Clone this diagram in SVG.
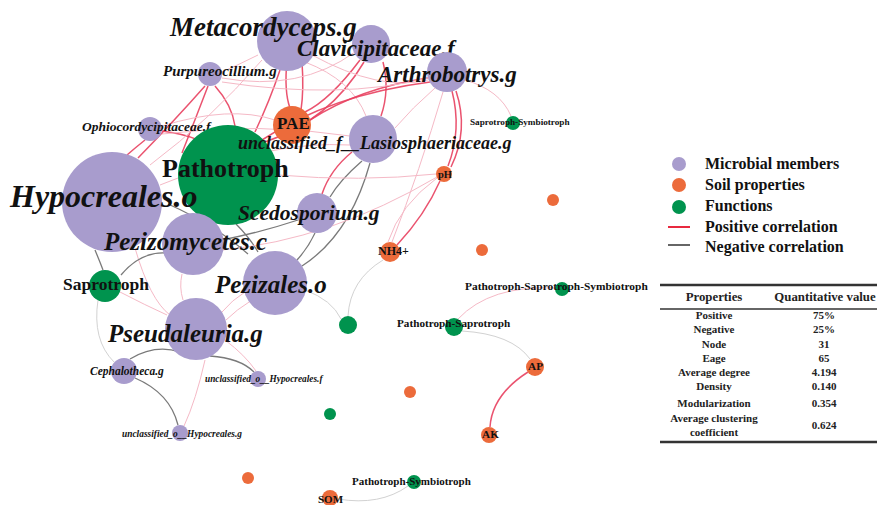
<svg xmlns="http://www.w3.org/2000/svg" width="877" height="505" viewBox="0 0 877 505">
<style>
.e{fill:none}
.p{stroke:#e8405f;stroke-width:1.5;opacity:.9}
.pl{stroke:#f5b9c6;stroke-width:1}
.n{stroke:#7a7a7a;stroke-width:1.3}
.nl{stroke:#d2d2d2;stroke-width:1}
.m{fill:#a89ccd}
.s{fill:#ec6b3b}
.f{fill:#00934e}
.t{font-family:"Liberation Serif","Times New Roman",serif;font-weight:bold;font-style:italic;fill:#111}
.b{font-family:"Liberation Serif","Times New Roman",serif;font-weight:bold;fill:#111}
.tb{font-family:"Liberation Serif","Times New Roman",serif;font-weight:bold;fill:#222;text-anchor:middle}
</style>
<rect width="877" height="505" fill="#fff"/>
<g id="connectors" class="e">
<path class="p" d="M287,60 Q284,92 290,108"/>
<path class="p" d="M302,62 Q304,90 301,110"/>
<path class="p" d="M280,70 Q270,100 255,132"/>
<path class="p" d="M360,60 Q330,100 305,112"/>
<path class="p" d="M364,62 Q330,120 265,142"/>
<path class="p" d="M383,62 Q390,90 381,116"/>
<path class="pl" d="M305,62 Q352,80 366,116"/>
<path class="pl" d="M312,55 Q380,92 428,80"/>
<path class="p" d="M428,78 Q360,88 310,120"/>
<path class="p" d="M430,82 Q330,95 262,140"/>
<path class="p" d="M215,86 Q232,105 235,126"/>
<path class="p" d="M208,86 Q195,120 182,153"/>
<path class="pl" d="M222,72 Q240,64 258,55"/>
<path class="pl" d="M222,78 Q300,92 355,52"/>
<path class="pl" d="M222,82 Q340,100 428,78"/>
<path class="p" d="M145,140 Q135,148 127,155"/>
<path class="p" d="M162,131 Q185,134 198,140"/>
<path class="pl" d="M162,126 Q230,105 275,120"/>
<path class="pl" d="M162,134 Q260,122 350,136"/>
<path class="p" d="M138,158 Q175,120 205,86"/>
<path class="pl" d="M150,165 Q210,120 262,60"/>
<path class="p" d="M352,152 Q330,170 322,194"/>
<path class="n" d="M362,161 Q340,180 330,197"/>
<path class="n" d="M370,163 Q350,235 302,266"/>
<path class="n" d="M222,240 Q262,232 298,220"/>
<path class="n" d="M315,233 Q308,248 297,260"/>
<path class="n" d="M236,224 Q250,238 258,252"/>
<path class="n" d="M168,204 Q215,225 248,254"/>
<path class="pl" d="M135,248 Q150,300 170,315"/>
<path class="n" d="M95,250 Q100,262 103,270"/>
<path class="n" d="M121,275 Q140,252 165,253"/>
<path class="pl" d="M120,292 Q145,305 167,315"/>
<path class="nl" d="M98,300 Q92,340 114,362"/>
<path class="pl" d="M182,274 Q179,287 183,300"/>
<path class="pl" d="M245,292 Q232,300 222,312"/>
<path class="pl" d="M252,300 Q236,310 226,320"/>
<path class="n" d="M130,359 Q155,344 180,352"/>
<path class="n" d="M210,356 Q240,358 254,372"/>
<path class="pl" d="M225,340 Q245,355 256,371"/>
<path class="pl" d="M205,360 Q196,400 184,426"/>
<path class="n" d="M135,378 Q170,393 178,425"/>
<path class="nl" d="M305,290 Q332,300 341,319"/>
<path class="nl" d="M383,260 Q350,280 348,316"/>
<path class="p" d="M440,181 Q425,215 397,245"/>
<path class="pl" d="M437,178 Q400,205 388,242"/>
<path class="p" d="M452,91 Q462,130 448,166"/>
<path class="p" d="M456,91 Q469,130 451,167"/>
<path class="pl" d="M443,92 Q420,170 392,242"/>
<path class="pl" d="M465,80 Q500,90 511,116"/>
<path class="pl" d="M435,88 Q412,108 395,128"/>
<path class="pl" d="M458,319 Q490,285 555,288"/>
<path class="nl" d="M462,331 Q512,334 530,359"/>
<path class="p" d="M528,372 Q492,395 490,427"/>
<path class="nl" d="M408,486 Q380,506 338,499"/>
<path class="pl" d="M222,250 Q330,240 437,177"/>
<path class="pl" d="M278,175 Q360,182 436,174"/>
<path class="pl" d="M160,185 Q270,140 350,145"/>
</g>
<g id="node-metacordyceps"><circle class="m" cx="287" cy="41" r="30"/><text class="t" x="170" y="36" font-size="27">Metacordyceps.g</text></g>
<g id="node-clavicipitaceae"><circle class="m" cx="371" cy="44" r="19"/><text class="t" x="297" y="56" font-size="23">Clavicipitaceae.f</text></g>
<g id="node-arthrobotrys"><circle class="m" cx="447" cy="72" r="20"/><text class="t" x="378" y="82" font-size="23">Arthrobotrys.g</text></g>
<g id="node-purpureocillium"><circle class="m" cx="210" cy="74" r="12"/><text class="t" x="163" y="76" font-size="15">Purpureocillium.g</text></g>
<g id="node-ophiocordycipitaceae"><circle class="m" cx="150" cy="129" r="12"/><text class="t" x="82" y="131" font-size="13.5">Ophiocordycipitaceae.f</text></g>
<g id="node-pathotroph"><circle class="f" cx="228" cy="175" r="50"/><text class="b" x="162" y="177" font-size="26">Pathotroph</text></g>
<g id="node-hypocreales"><circle class="m" cx="112" cy="202" r="50"/><text class="t" x="10" y="207" font-size="32">Hypocreales.o</text></g>
<g id="node-pae"><circle class="s" cx="292" cy="125" r="19"/><text class="b" x="277" y="129" font-size="17">PAE</text></g>
<g id="node-lasiosphaeriaceae"><circle class="m" cx="373" cy="139" r="24"/><text class="t" x="238" y="149" font-size="18">unclassified_f__Lasiosphaeriaceae.g</text></g>
<g id="node-ph"><circle class="s" cx="444" cy="174" r="8"/><text class="b" x="438" y="178" font-size="10.5">pH</text></g>
<g id="node-saprotroph-symbiotroph"><circle class="f" cx="513" cy="123" r="7"/><text class="b" x="470" y="125" font-size="9.2">Saprotroph-Symbiotroph</text></g>
<g id="node-soil-1"><circle class="s" cx="553" cy="200" r="6"/></g>
<g id="node-scedosporium"><circle class="m" cx="317" cy="213" r="20"/><text class="t" x="238" y="220" font-size="21.5">Scedosporium.g</text></g>
<g id="node-pezizomycetes"><circle class="m" cx="193" cy="244" r="31"/><text class="t" x="104" y="250" font-size="25">Pezizomycetes.c</text></g>
<g id="node-pezizales"><circle class="m" cx="275" cy="283" r="32"/><text class="t" x="215" y="293" font-size="25">Pezizales.o</text></g>
<g id="node-pseudaleuria"><circle class="m" cx="196" cy="329" r="31"/><text class="t" x="108" y="342" font-size="25">Pseudaleuria.g</text></g>
<g id="node-saprotroph"><circle class="f" cx="105" cy="286" r="16"/><text class="b" x="63" y="290" font-size="17.5">Saprotroph</text></g>
<g id="node-cephalotheca"><circle class="m" cx="124" cy="371" r="13"/><text class="t" x="90" y="375" font-size="11.5">Cephalotheca.g</text></g>
<g id="node-unc-hypocreales-f"><circle class="m" cx="258" cy="379" r="8"/><text class="t" x="205" y="382" font-size="9.3">unclassified_o__Hypocreales.f</text></g>
<g id="node-unc-hypocreales-g"><circle class="m" cx="180" cy="433" r="8"/><text class="t" x="122" y="437" font-size="9.4">unclassified_o__Hypocreales.g</text></g>
<g id="node-soil-2"><circle class="s" cx="248" cy="478" r="6"/></g>
<g id="node-som"><circle class="s" cx="330" cy="498" r="8"/><text class="b" x="318" y="503" font-size="11">SOM</text></g>
<g id="node-function-1"><circle class="f" cx="330" cy="414" r="6"/></g>
<g id="node-function-2"><circle class="f" cx="348" cy="325" r="9"/></g>
<g id="node-nh4"><circle class="s" cx="390" cy="252" r="10"/><text class="b" x="378" y="255" font-size="12">NH4+</text></g>
<g id="node-soil-3"><circle class="s" cx="482" cy="250" r="6"/></g>
<g id="node-pss"><circle class="f" cx="562" cy="289" r="7"/><text class="b" x="465" y="290" font-size="11.4">Pathotroph-Saprotroph-Symbiotroph</text></g>
<g id="node-ps"><circle class="f" cx="454" cy="327" r="9"/><text class="b" x="397" y="327" font-size="11.2">Pathotroph-Saprotroph</text></g>
<g id="node-ap"><circle class="s" cx="535" cy="367" r="9"/><text class="b" x="528" y="370" font-size="11.3">AP</text></g>
<g id="node-soil-4"><circle class="s" cx="410" cy="392" r="6"/></g>
<g id="node-ak"><circle class="s" cx="489" cy="435" r="8"/><text class="b" x="482" y="438" font-size="11.3">AK</text></g>
<g id="node-psy"><circle class="f" cx="414" cy="482" r="7"/><text class="b" x="352" y="485" font-size="11">Pathotroph-Symbiotroph</text></g>
<g id="legend">
<circle class="m" cx="679" cy="164" r="7"/>
<circle class="s" cx="679" cy="185" r="7"/>
<circle class="f" cx="679" cy="207" r="7"/>
<line x1="668" y1="227" x2="690" y2="227" stroke="#e8293f" stroke-width="2"/>
<line x1="668" y1="245" x2="690" y2="245" stroke="#666" stroke-width="2"/>
<text class="b" x="705" y="169" font-size="16">Microbial members</text>
<text class="b" x="705" y="190" font-size="16">Soil properties</text>
<text class="b" x="705" y="211" font-size="16">Functions</text>
<text class="b" x="705" y="232" font-size="16">Positive correlation</text>
<text class="b" x="705" y="252" font-size="16">Negative correlation</text>
</g>
<g id="table">
<line x1="660" y1="285" x2="877" y2="285" stroke="#333" stroke-width="2.5"/>
<line x1="660" y1="309" x2="877" y2="309" stroke="#333" stroke-width="1.5"/>
<line x1="660" y1="442" x2="877" y2="442" stroke="#333" stroke-width="2.5"/>
<text class="tb" x="714" y="301" font-size="12.8">Properties</text>
<text class="tb" x="825" y="301" font-size="12.8">Quantitative value</text>
<g font-size="11">
<text class="tb" x="714" y="319">Positive</text><text class="tb" x="824" y="319">75%</text>
<text class="tb" x="714" y="333">Negative</text><text class="tb" x="824" y="333">25%</text>
<text class="tb" x="714" y="348">Node</text><text class="tb" x="824" y="348">31</text>
<text class="tb" x="714" y="362">Eage</text><text class="tb" x="824" y="362">65</text>
<text class="tb" x="714" y="376">Average degree</text><text class="tb" x="824" y="376">4.194</text>
<text class="tb" x="714" y="390">Density</text><text class="tb" x="824" y="390">0.140</text>
<text class="tb" x="714" y="407">Modularization</text><text class="tb" x="824" y="407">0.354</text>
<text class="tb" x="714" y="422">Average clustering</text>
<text class="tb" x="714" y="436">coefficient</text><text class="tb" x="824" y="429">0.624</text>
</g>
</g>
</svg>
